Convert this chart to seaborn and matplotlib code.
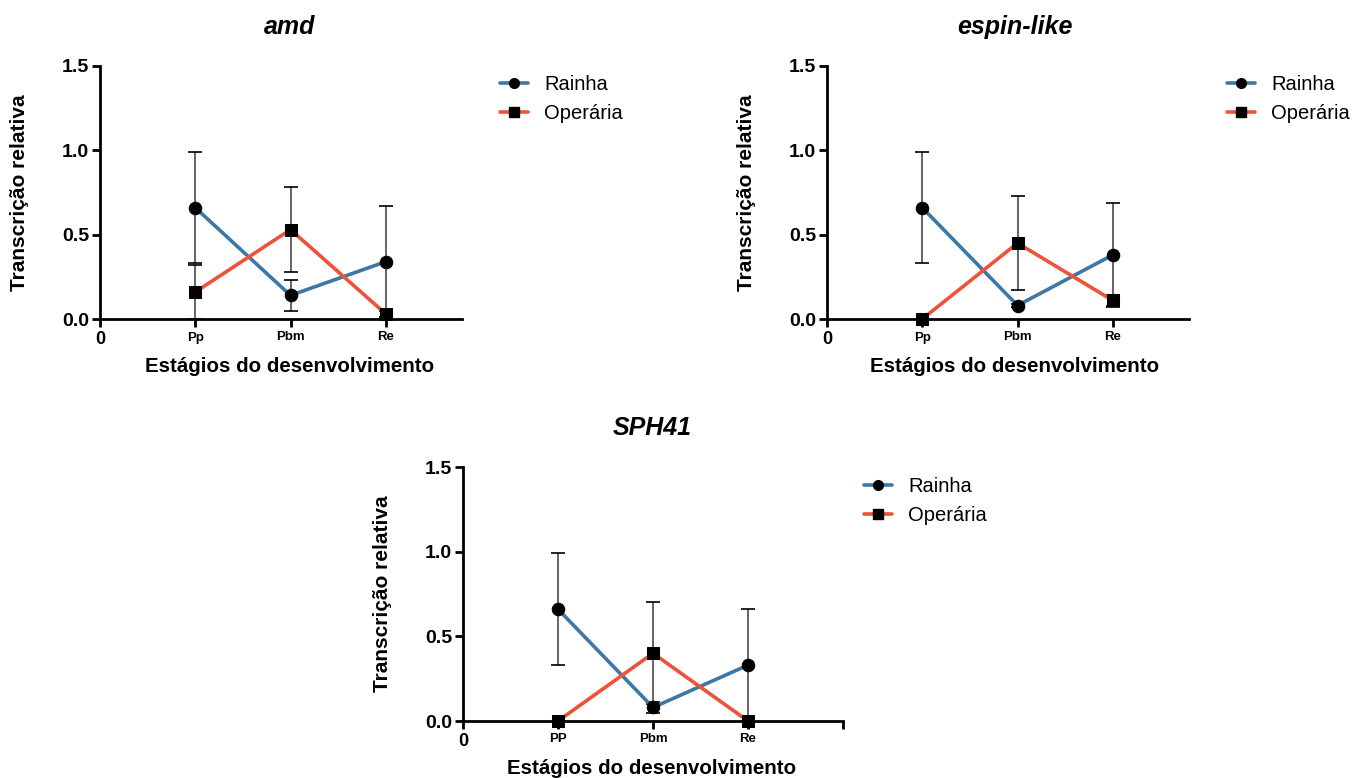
import matplotlib
matplotlib.use("Agg")
import matplotlib.pyplot as plt
import seaborn as sns
import pandas as pd
from matplotlib.lines import Line2D

sns.set_theme(style="ticks")
plt.rcParams['font.family'] = ['Liberation Sans', 'DejaVu Sans']
plt.rcParams['text.color'] = 'black'
plt.rcParams['axes.labelcolor'] = 'black'

# ---- data ----
groups = ["Rainha", "Operária"]
stage_pos = [1, 2, 3]

amd_labels = ["Pp", "Pbm", "Re"]
amd_rainha = [0.66, 0.14, 0.34]
amd_rainha_err = [0.33, 0.09, 0.33]
amd_operaria = [0.16, 0.53, 0.03]
amd_operaria_err = [0.16, 0.25, 0.02]

espin_labels = ["Pp", "Pbm", "Re"]
espin_rainha = [0.66, 0.08, 0.38]
espin_rainha_err = [0.33, 0.01, 0.31]
espin_operaria = [0.0, 0.45, 0.11]
espin_operaria_err = [0.0, 0.28, 0.03]

sph_labels = ["PP", "Pbm", "Re"]
sph_rainha = [0.66, 0.08, 0.33]
sph_rainha_err = [0.33, 0.035, 0.33]
sph_operaria = [0.0, 0.40, 0.0]
sph_operaria_err = [0.0, 0.30, 0.0]

titles = ["amd", "espin-like", "SPH41"]
ylabel = "Transcrição relativa"
xlabel = "Estágios do desenvolvimento"
yticks = [0.0, 0.5, 1.0, 1.5]

colors = {"Rainha": "#3d77a6", "Operária": "#ee5238"}
markers = {"Rainha": "o", "Operária": "s"}

W, H = 1357, 778
fig = plt.figure(figsize=(W / 100, H / 100), dpi=100)

panels = [
    dict(title=titles[0], labels=amd_labels, r=amd_rainha, re=amd_rainha_err,
         o=amd_operaria, oe=amd_operaria_err, rect=(100, 66, 462, 319), xmax=3.8,
         leg=(500, 75), tx=290),
    dict(title=titles[1], labels=espin_labels, r=espin_rainha, re=espin_rainha_err,
         o=espin_operaria, oe=espin_operaria_err, rect=(827, 66, 1189, 319), xmax=3.8,
         leg=(1227, 75), tx=1015),
    dict(title=titles[2], labels=sph_labels, r=sph_rainha, re=sph_rainha_err,
         o=sph_operaria, oe=sph_operaria_err, rect=(463, 467, 843, 721), xmax=4.0,
         leg=(864, 477), tx=652),
]

for p in panels:
    x0, y0, x1, y1 = p["rect"]
    aw, ah = x1 - x0, y1 - y0
    ax = fig.add_axes([x0 / W, 1 - y1 / H, aw / W, ah / H])
    df = pd.DataFrame({
        "stage": stage_pos * 2,
        "value": p["r"] + p["o"],
        "err": p["re"] + p["oe"],
        "group": [groups[0]] * 3 + [groups[1]] * 3,
    })
    for g in groups:
        d = df[df.group == g]
        ax.errorbar(d.stage, d.value, yerr=d.err, fmt="none", ecolor="#4a4a4a",
                    elinewidth=1.2, capsize=5, capthick=1.2, zorder=1)
    sns.lineplot(data=df, x="stage", y="value", hue="group", style="group",
                 palette=colors, markers=markers, dashes=False, linewidth=2.6,
                 markersize=9, ax=ax, legend=False, zorder=3)
    for ln in ax.lines:
        ln.set_markerfacecolor("black")
        ln.set_markeredgecolor("black")
        ln.set_clip_on(False)

    ax.set_xlim(0, p["xmax"])
    ax.set_ylim(0, 1.5)
    ax.spines["top"].set_visible(False)
    ax.spines["right"].set_visible(False)
    for s in ["left", "bottom"]:
        ax.spines[s].set_linewidth(2.0)
        ax.spines[s].set_color("black")
        ax.spines[s].set_zorder(2)
    xt = [0] + stage_pos + ([4] if p["xmax"] >= 4 else [])
    xl = ["0"] + p["labels"] + ([""] if p["xmax"] >= 4 else [])
    ax.set_xticks(xt)
    ax.set_xticklabels(xl)
    ax.set_yticks(yticks)
    ax.set_yticklabels([f"{v:.1f}" for v in yticks])
    ax.tick_params(axis="both", width=2.0, length=6, color="black", labelcolor="black")
    ax.tick_params(axis="x", pad=3)
    ax.tick_params(axis="y", pad=2)
    for i, t in enumerate(ax.get_xticklabels()):
        t.set_fontweight("bold")
        if i == 0:
            t.set_fontsize(13)
        else:
            t.set_fontsize(9.5)
    for t in ax.get_yticklabels():
        t.set_fontweight("bold")
        t.set_fontsize(14)

    ax.set_xlabel(xlabel, fontsize=14.8, fontweight="bold", va="center")
    ax.xaxis.set_label_coords((p["tx"] - x0) / aw, -47 / ah)
    ax.set_ylabel(ylabel, fontsize=15, fontweight="bold", va="center")
    ax.yaxis.set_label_coords(-80 / aw, 0.5)
    fig.text(p["tx"] / W, 1 - (y0 - 39) / H, p["title"], fontsize=18,
             fontweight="bold", fontstyle="italic", ha="center", va="center")

    handles = [Line2D([0], [0], color=colors[g], lw=2.6, marker=markers[g],
                      markersize=7, markerfacecolor="black", markeredgecolor="black")
               for g in groups]
    lx, ly = p["leg"]
    ax.legend(handles, groups, loc="upper left", bbox_to_anchor=(lx / W, 1 - ly / H),
              bbox_transform=fig.transFigure, frameon=False, fontsize=14.5,
              handlelength=1.4, handletextpad=0.8, labelspacing=0.5, borderpad=0.0,
              borderaxespad=0.0)

fig.savefig("out.png", dpi=100)
